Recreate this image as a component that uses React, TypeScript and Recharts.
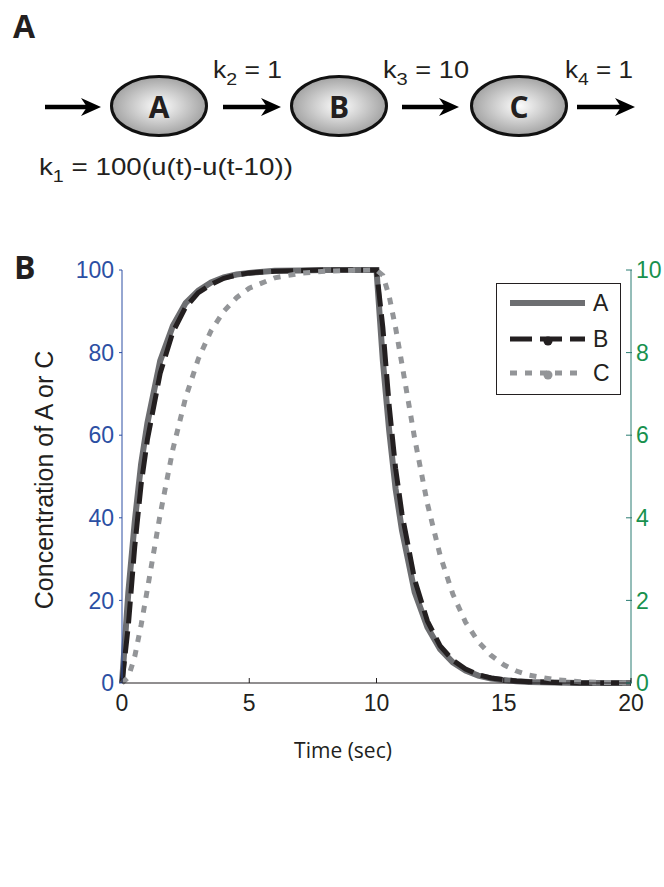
import React from 'react'
import { Label, Legend, Line, LineChart, XAxis, YAxis } from 'recharts'

// values
const timeSec = [
  0, 0.25, 0.5, 0.75, 1, 1.5, 2, 2.5, 3, 3.5, 4, 4.5, 5, 6, 7, 8, 9, 10,
  10.25, 10.5, 10.75, 11, 11.5, 12, 12.5, 13, 13.5, 14, 14.5, 15, 15.5, 16, 17, 18, 19, 20,
]
const concA = [
  0, 22, 39, 53, 63, 78, 86.5, 92, 95, 97, 98.2, 98.9, 99.3, 99.8, 99.9, 100, 100, 100,
  78, 61, 47, 37, 22, 13.5, 8.2, 5, 3, 1.8, 1.1, 0.7, 0.4, 0.25, 0.1, 0, 0, 0,
]
// B is read against the right-hand axis (0-10)
const concB = [
  0, 1.4, 3.3, 4.8, 5.9, 7.5, 8.5, 9.1, 9.45, 9.65, 9.8, 9.88, 9.93, 9.97, 9.99, 10, 10, 10,
  8.6, 6.7, 5.2, 4.1, 2.5, 1.5, 0.9, 0.55, 0.34, 0.2, 0.12, 0.08, 0.05, 0.03, 0.01, 0, 0, 0,
]
const concC = [
  0, 1.4, 6.4, 14, 22.8, 40.8, 56.6, 69.1, 78.5, 85.3, 90, 93.3, 95.6, 98.1, 99.2, 99.7, 99.9, 100,
  98.7, 93.6, 86, 77.2, 59.2, 43.4, 30.9, 21.5, 14.7, 10, 6.7, 4.4, 2.9, 1.9, 0.8, 0.33, 0.13, 0.05,
]
const leftTicks = [0, 20, 40, 60, 80, 100]
const rightTicks = [0, 2, 4, 6, 8, 10]
const timeTicks = [0, 5, 10, 15, 20]

const rows = timeSec.map((t, i) => ({ t, a: concA[i], b: concB[i], c: concC[i] }))

const BLUE = '#2c4fa3'
const GREEN = '#18914e'
const TEAL = '#2b7d73'
const INK = '#231f20'
const SANS = '"Liberation Sans", Arial, sans-serif'
const HUMANIST = '"Open Sans", sans-serif'

const series = [
  { key: 'a', name: 'A', color: '#6d6e71', width: 6, dash: undefined as string | undefined, axis: 'left', marker: false },
  { key: 'b', name: 'B', color: INK, width: 5, dash: '22 8', axis: 'right', marker: true },
  { key: 'c', name: 'C', color: '#939598', width: 5, dash: '7 8', axis: 'left', marker: true },
]
const legendRowY = [20, 56, 90]

const X_GAP = 12
const R_GAP = 5

function TimeTick(props: any) {
  const { x, y, payload } = props
  const axisY = y - X_GAP
  return (
    <g>
      <line x1={x} x2={x} y1={axisY} y2={axisY - 5} stroke={INK} />
      <text x={x} y={y} dy="0.71em" textAnchor="middle" fontFamily={SANS} fontSize={23} fill={INK}>
        {payload.value}
      </text>
    </g>
  )
}

function TopTick(props: any) {
  const { x, y } = props
  return <line x1={x} x2={x} y1={y} y2={y + 5} stroke={INK} />
}

function RightTick(props: any) {
  const { x, y, payload } = props
  const axisX = x - R_GAP
  return (
    <g>
      <line x1={axisX - 5} x2={axisX + 1} y1={y} y2={y} stroke={TEAL} />
      <text x={x} y={y} dy="0.355em" textAnchor="start" fontFamily={SANS} fontSize={23} fill={GREEN}>
        {payload.value}
      </text>
    </g>
  )
}

function LegendBox() {
  return (
    <svg width={125} height={112} style={{ display: 'block' }}>
      <rect x={0.5} y={0.5} width={124} height={111} fill="#fff" stroke={INK} />
      {series.map((s, i) => {
        const y = legendRowY[i]
        return (
          <g key={s.key}>
            <line x1={14} x2={89} y1={y} y2={y} stroke={s.color} strokeWidth={s.width} strokeDasharray={s.dash} />
            {s.marker && <circle cx={52} cy={y + 2} r={4.5} fill={s.color} />}
            <text x={97} y={y} dy="0.355em" fontFamily={SANS} fontSize={23} fill={INK}>
              {s.name}
            </text>
          </g>
        )
      })}
    </svg>
  )
}

function Arrow({ x1, x2, y }: { x1: number; x2: number; y: number }) {
  return (
    <g>
      <line x1={x1} x2={x2 - 12} y1={y} y2={y} stroke="#000" strokeWidth={4.5} />
      <path d={`M${x2},${y} L${x2 - 20},${y - 9} L${x2 - 14},${y} L${x2 - 20},${y + 9} Z`} fill="#000" />
    </g>
  )
}

const nodes = [
  { label: 'A', cx: 159 },
  { label: 'B', cx: 339 },
  { label: 'C', cx: 519 },
]
const arrows = [
  [45, 101],
  [223, 281],
  [402, 459],
  [577, 635],
]
const rates = [
  { sub: '2', val: '1', x: 213, w: 69 },
  { sub: '3', val: '10', x: 383, w: 86 },
  { sub: '4', val: '1', x: 565, w: 68 },
]

function Scheme() {
  return (
    <svg width={664} height={887} style={{ position: 'absolute', left: 0, top: 0 }}>
      <defs>
        <radialGradient id="nodeFill" cx="50%" cy="50%" r="55%">
          <stop offset="0%" stopColor="#fdfdfd" />
          <stop offset="100%" stopColor="#9a9a9a" />
        </radialGradient>
      </defs>
      <text x={13} y={38} fontFamily={HUMANIST} fontWeight={700} fontSize={32} fill={INK}>
        A
      </text>
      <text x={14} y={279} fontFamily={HUMANIST} fontWeight={700} fontSize={32} fill={INK}>
        B
      </text>
      {arrows.map(([x1, x2]) => (
        <Arrow key={x1} x1={x1} x2={x2} y={107} />
      ))}
      {nodes.map((n) => (
        <g key={n.label}>
          <ellipse cx={n.cx} cy={106} rx={47.5} ry={29.5} fill="url(#nodeFill)" stroke="#111" strokeWidth={3} />
          <text x={n.cx} y={118} textAnchor="middle" fontFamily={HUMANIST} fontWeight={700} fontSize={30} fill={INK}>
            {n.label}
          </text>
        </g>
      ))}
      {rates.map((r) => (
        <text
          key={r.sub}
          x={r.x}
          y={78}
          fontFamily={SANS}
          fontSize={23}
          fill={INK}
          textLength={r.w}
          lengthAdjust="spacingAndGlyphs"
        >
          k
          <tspan fontSize={17} dy={7}>
            {r.sub}
          </tspan>
          <tspan dy={-7}>{` = ${r.val}`}</tspan>
        </text>
      ))}
      <text x={39} y={175} fontFamily={SANS} fontSize={24} fill={INK} textLength={254} lengthAdjust="spacingAndGlyphs">
        k
        <tspan fontSize={17} dy={7}>
          1
        </tspan>
        <tspan dy={-7}>{' = 100(u(t)-u(t-10))'}</tspan>
      </text>
    </svg>
  )
}

export default function App() {
  return (
    <div style={{ position: 'absolute', left: 0, top: 0, width: 664, height: 887, background: '#fff', fontFamily: SANS }}>
      <Scheme />
      <div style={{ position: 'absolute', left: 0, top: 0 }}>
        <LineChart width={664} height={800} data={rows} margin={{ top: 270, right: 0, bottom: 0, left: 0 }}>
          <XAxis
            xAxisId="top"
            orientation="top"
            dataKey="t"
            type="number"
            domain={[0, 20]}
            ticks={[5, 10, 15]}
            height={0}
            tickSize={0}
            tickMargin={0}
            tickLine={false}
            tick={<TopTick />}
            stroke={INK}
          />
          <XAxis
            dataKey="t"
            type="number"
            domain={[0, 20]}
            ticks={timeTicks}
            height={117}
            tickSize={0}
            tickMargin={X_GAP}
            tickLine={false}
            tick={<TimeTick />}
            stroke={INK}
          >
            <Label
              content={() => (
                <text x={343} y={758} textAnchor="middle" fontFamily={HUMANIST} fontSize={21} fill={INK}>
                  Time (sec)
                </text>
              )}
            />
          </XAxis>
          <YAxis
            yAxisId="left"
            domain={[0, 100]}
            ticks={leftTicks}
            width={122}
            tickSize={3}
            tickMargin={5}
            stroke={BLUE}
            tick={{ fill: BLUE, fontSize: 23, fontFamily: SANS }}
          >
            <Label
              content={() => (
                <text
                  x={44}
                  y={480}
                  transform="rotate(-90 44 480)"
                  textAnchor="middle"
                  dominantBaseline="central"
                  fontFamily={SANS}
                  fontSize={25}
                  fill={INK}
                >
                  Concentration of A or C
                </text>
              )}
            />
          </YAxis>
          <YAxis
            yAxisId="right"
            orientation="right"
            domain={[0, 10]}
            ticks={rightTicks}
            width={33}
            tickSize={0}
            tickMargin={R_GAP}
            tickLine={false}
            tick={<RightTick />}
            stroke={TEAL}
          />
          <Legend
            layout="vertical"
            align="center"
            verticalAlign="middle"
            wrapperStyle={{ left: 496, top: 283, width: 125, height: 112 }}
            content={() => <LegendBox />}
          />
          {series.map((s) => (
            <Line
              key={s.key}
              yAxisId={s.axis}
              dataKey={s.key}
              name={s.name}
              type="linear"
              stroke={s.color}
              strokeWidth={s.width}
              strokeDasharray={s.dash}
              dot={false}
              activeDot={false}
              isAnimationActive={false}
            />
          ))}
        </LineChart>
      </div>
    </div>
  )
}
